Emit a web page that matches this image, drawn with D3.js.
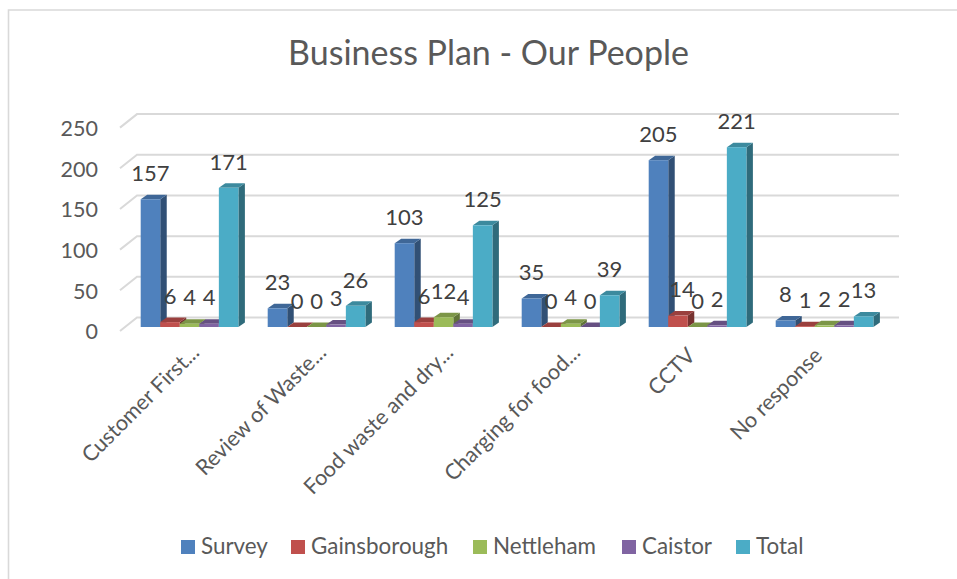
<!DOCTYPE html>
<html>
<head>
<meta charset="utf-8">
<script src="https://cdn.jsdelivr.net/npm/d3@7"></script>
<style>
  html, body { margin: 0; padding: 0; background: #fff; overflow: hidden; }
  svg { display: block; font-family: Lato, "Open Sans", sans-serif; }
</style>
</head>
<body>
<svg id="chart" width="957" height="579"></svg>
<script>
// Chart values
const categories = ["Customer First...", "Review of Waste...", "Food waste and dry...", "Charging for food...", "CCTV", "No response"];
const seriesNames = ["Survey", "Gainsborough", "Nettleham", "Caistor", "Total"];
const survey = [157, 23, 103, 35, 205, 8];
const gainsborough = [6, 0, 6, 0, 14, 1];
const nettleham = [4, 0, 12, 4, 0, 2];
const caistor = [4, 3, 4, 0, 2, 2];
const total = [171, 26, 125, 39, 221, 13];
const yTicks = [0, 50, 100, 150, 200, 250];
const seriesColors = ["#4f81bd", "#c0504d", "#9bbb59", "#8064a2", "#4bacc6"];
const seriesValues = [survey, gainsborough, nettleham, caistor, total];

const svg = d3.select("#chart");

// Oblique projection: the floor runs from a front edge to a back wall
const depth = { x: 17, y: 13.5 };
const barDepth = { x: 6.5, y: 4.5 };
const frontY = d3.scaleLinear().domain([0, 250]).range([331, 127.6]);
const barY = d3.scaleLinear().domain([0, 250]).range([327, 123.6]);
const catX = d3.scaleBand().domain(categories).range([120, 882]);
const serX = d3.scaleBand().domain(seriesNames).range([20.7, 118.4]);

// Chart frame, open on the right and at the bottom
svg.append("path")
  .attr("d", "M8.5,579V10H957")
  .attr("fill", "none").attr("stroke", "#d9d9d9").attr("stroke-width", 1.6);

// Title
svg.append("text")
  .attr("x", 488.5).attr("y", 65)
  .attr("text-anchor", "middle")
  .attr("font-size", 34).attr("fill", "#595959")
  .text("Business Plan - Our People");

// Gridlines: diagonal on the side wall, horizontal on the back wall
const grid = svg.append("g");
grid.selectAll("path").data(yTicks).join("path")
  .attr("d", d => `M120,${frontY(d)}L${120 + depth.x},${frontY(d) - depth.y}H${882 + depth.x}`)
  .attr("fill", "none").attr("stroke", "#d9d9d9").attr("stroke-width", 2);

// Value axis
const yAxis = svg.append("g")
  .attr("transform", "translate(98,0)")
  .call(d3.axisLeft(frontY).tickValues(yTicks).tickSize(0).tickPadding(0));
yAxis.select(".domain").remove();
yAxis.selectAll("text")
  .attr("font-family", "Lato, 'Open Sans', sans-serif")
  .attr("font-size", 21.5).attr("fill", "#595959")
  .attr("dy", "0.36em");

// Bars: each one is a front face, a top face and a right side face
const bars = svg.append("g");
categories.forEach((cat, c) => {
  seriesNames.forEach((name, s) => {
    const v = seriesValues[s][c];
    const x0 = catX(cat) + serX(name);
    const x1 = x0 + serX.bandwidth();
    const y0 = barY(0);
    const y1 = barY(v);
    const color = d3.color(seriesColors[s]);
    bars.append("path")
      .attr("d", `M${x1},${y0}L${x1 + barDepth.x},${y0 - barDepth.y}V${y1 - barDepth.y}L${x1},${y1}Z`)
      .attr("fill", d3.rgb(color.r * 0.62, color.g * 0.62, color.b * 0.62));
    bars.append("path")
      .attr("d", `M${x0},${y1}L${x0 + barDepth.x},${y1 - barDepth.y}H${x1 + barDepth.x}L${x1},${y1}Z`)
      .attr("fill", d3.rgb(color.r * 0.8, color.g * 0.8, color.b * 0.8));
    if (v > 0) {
      bars.append("rect")
        .attr("x", x0).attr("y", y1)
        .attr("width", x1 - x0).attr("height", y0 - y1)
        .attr("fill", color);
    }
  });
});

// Data labels, drawn above the bars; the CCTV / Gainsborough label sits
// slightly right of its bar
const labels = svg.append("g")
  .attr("font-size", 22).attr("fill", "#404040").attr("text-anchor", "middle");
categories.forEach((cat, c) => {
  seriesNames.forEach((name, s) => {
    const v = seriesValues[s][c];
    const nudge = cat === "CCTV" && name === "Gainsborough" ? 4 : 0;
    labels.append("text")
      .attr("x", catX(cat) + serX(name) + serX.bandwidth() / 2 + nudge)
      .attr("y", barY(v) - 18.3)
      .text(v);
  });
});

// Category axis with slanted labels; shortened names run a little further
const xAxis = svg.append("g")
  .attr("transform", "translate(0,331)")
  .call(d3.axisBottom(catX).tickSize(0).tickPadding(0));
xAxis.select(".domain").remove();
xAxis.selectAll("text")
  .attr("font-family", "Lato, 'Open Sans', sans-serif")
  .attr("font-size", 21.6).attr("fill", "#595959")
  .attr("text-anchor", "end")
  .attr("dy", null).attr("y", null)
  .attr("transform", d => d.endsWith("...")
    ? "translate(17,23) rotate(-45)"
    : "translate(5,26) rotate(-45)");

// Legend
const legendSwatchX = [181, 291, 473, 622, 736];
const legend = svg.append("g");
seriesNames.forEach((name, s) => {
  legend.append("rect")
    .attr("x", legendSwatchX[s]).attr("y", 540)
    .attr("width", 14).attr("height", 14)
    .attr("fill", seriesColors[s]);
  legend.append("text")
    .attr("x", legendSwatchX[s] + 20).attr("y", 554)
    .attr("font-size", 22.4).attr("fill", "#595959")
    .text(name);
});
</script>
</body>
</html>
